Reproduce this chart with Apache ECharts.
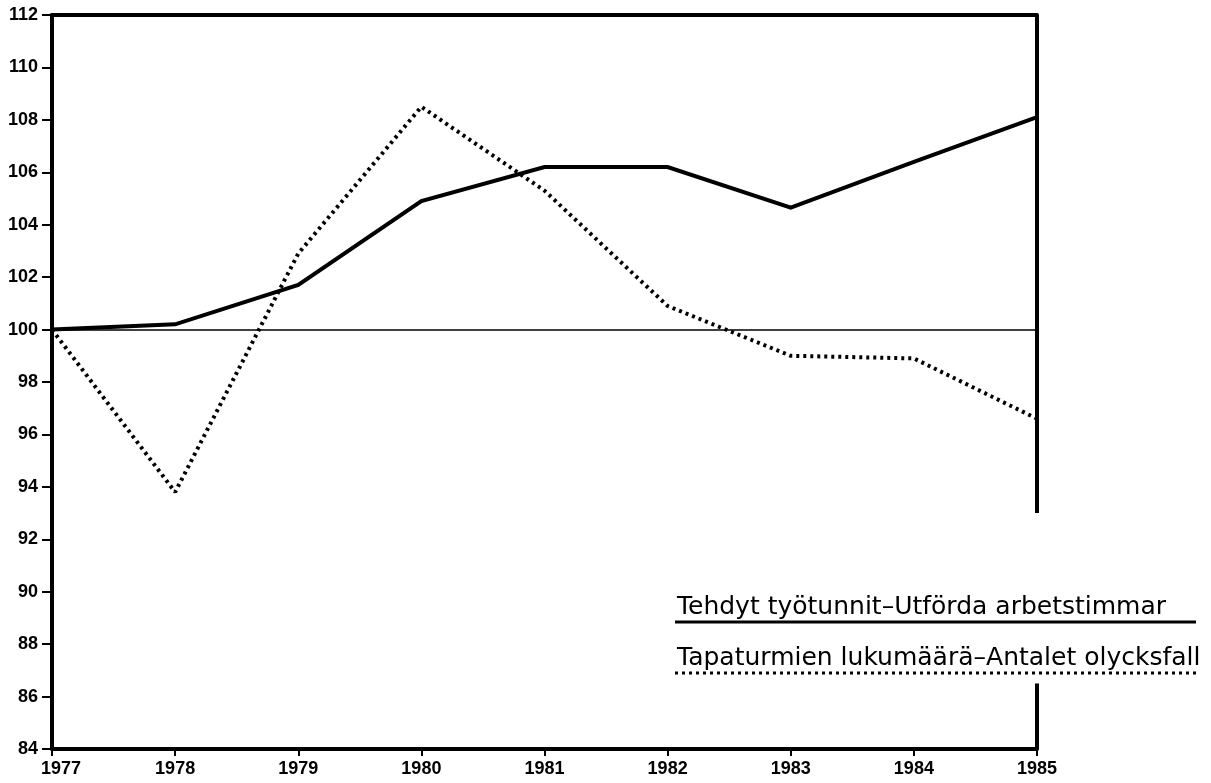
<!DOCTYPE html>
<html>
<head>
<meta charset="utf-8">
<script src="https://cdn.jsdelivr.net/npm/echarts@6/dist/echarts.min.js"></script>
<style>
  html, body { margin: 0; padding: 0; background: #fff; }
  #chart { width: 1211px; height: 783px; }
</style>
</head>
<body>
<div id="chart"></div>
<script>
// values (index, 1977 = 100)
const years = ['1977', '1978', '1979', '1980', '1981', '1982', '1983', '1984', '1985'];
const hoursWorked = [100, 100.2, 101.7, 104.9, 106.2, 106.2, 104.65, 106.4, 108.1];
const accidents = [100, 93.8, 102.9, 108.5, 105.3, 100.9, 99.0, 98.9, 96.6];
const yMin = 84;
const yMax = 112;
const yStep = 2;

const hoursName = 'Tehdyt työtunnit–Utförda arbetstimmar';
const accidentsName = 'Tapaturmien lukumäärä–Antalet olycksfall';

const black = '#000';
const tickFont = { color: black, fontFamily: 'Liberation Sans', fontWeight: 'bold', fontSize: 18 };
const lastYear = years[years.length - 1];

const chart = echarts.init(document.getElementById('chart'));

chart.setOption({
  animation: false,
  backgroundColor: '#fff',
  grid: { left: 52, right: 174, top: 15, bottom: 34 },
  xAxis: [{
    type: 'category',
    data: years,
    boundaryGap: false,
    axisLine: { lineStyle: { color: black, width: 4 } },
    axisTick: { length: 7, lineStyle: { color: black, width: 2 } },
    axisLabel: Object.assign({
      margin: 11,
      // first year sits a little right of its tick, clear of the "84"
      formatter: (v, i) => (i === 0 ? '{first|' + v + '}' : v),
      rich: { first: Object.assign({ padding: [0, 0, 0, 18] }, tickFont) },
    }, tickFont),
    splitLine: { show: false },
  }, {
    // top frame line
    type: 'category',
    data: years,
    boundaryGap: false,
    position: 'top',
    axisLine: { lineStyle: { color: black, width: 4 } },
    axisTick: { show: false },
    axisLabel: { show: false },
  }],
  yAxis: {
    type: 'value',
    min: yMin,
    max: yMax,
    interval: yStep,
    axisLine: { show: true, lineStyle: { color: black, width: 4 } },
    axisTick: { show: true, length: 10, lineStyle: { color: black, width: 2 } },
    axisLabel: Object.assign({ margin: 14 }, tickFont),
    splitLine: { show: false },
  },
  series: [{
    name: hoursName,
    type: 'line',
    data: hoursWorked,
    showSymbol: false,
    lineStyle: { color: black, width: 4, join: 'miter' },
    markLine: {
      silent: true,
      symbol: 'none',
      label: { show: false },
      data: [
        [{ coord: [years[0], 100], lineStyle: { color: black, width: 1.5, type: 'solid' } },
         { coord: [lastYear, 100] }],
        [{ coord: [lastYear, yMax], lineStyle: { color: black, width: 4, type: 'solid' } },
         { coord: [lastYear, 93] }],
        [{ coord: [lastYear, 86.5], lineStyle: { color: black, width: 4, type: 'solid' } },
         { coord: [lastYear, yMin] }],
      ],
    },
  }, {
    name: accidentsName,
    type: 'line',
    data: accidents,
    showSymbol: false,
    lineStyle: { color: black, width: 4, type: [3, 4] },
  }],
  graphic: [{
    type: 'text',
    left: 677,
    top: 595,
    style: { text: hoursName, fill: black, font: '25px "DejaVu Sans"' },
  }, {
    type: 'line',
    shape: { x1: 675, y1: 622, x2: 1196, y2: 622 },
    style: { stroke: black, lineWidth: 3 },
  }, {
    type: 'text',
    left: 677,
    top: 646,
    style: { text: accidentsName, fill: black, font: '25px "DejaVu Sans"' },
  }, {
    type: 'line',
    shape: { x1: 675, y1: 673, x2: 1196, y2: 673 },
    style: { stroke: black, lineWidth: 3, lineDash: [3, 4] },
  }],
});
</script>
</body>
</html>
